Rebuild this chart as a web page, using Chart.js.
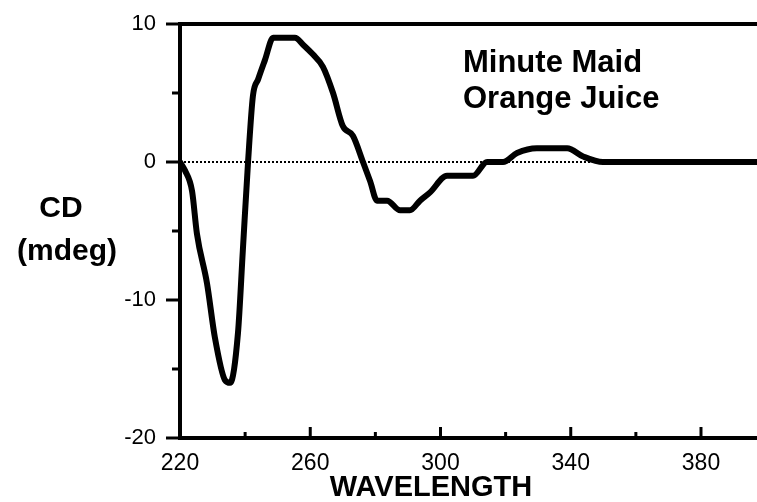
<!DOCTYPE html>
<html>
<head>
<meta charset="utf-8">
<script src="https://cdn.jsdelivr.net/npm/chart.js@4/dist/chart.umd.min.js"></script>
<style>
  html, body { margin: 0; padding: 0; background: #fff; }
  #wrap { width: 757px; height: 502px; }
</style>
</head>
<body>
<div id="wrap"><canvas id="cdChart" width="757" height="502"></canvas></div>
<script>
// CD spectrum, Minute Maid orange juice
const wavelength = [220, 221.5, 223.7, 225.2, 228.3, 230.7, 233.8, 235.4, 237.8, 239.3, 240.9,
    242.4, 244, 246.1, 248.6, 255.3, 257.8, 260.8, 263.9, 267, 270, 273.1, 276.2,
    278.4, 280.5, 283.6, 287.6, 290.6, 293.7, 296.8, 302, 310, 314.3, 319.2,
    323.5, 329.6, 338.9, 343.8, 349.9, 360, 380, 397];
const cdValues = [0, -0.6, -2.1, -5.2, -8.8, -12.7, -15.8, -16.0, -12.4, -6.4, 0,
    4.8, 6.0, 7.4, 9.0, 9.0, 8.5, 7.8, 6.9, 5.0, 2.6, 1.9, 0,
    -1.4, -2.8, -2.8, -3.5, -3.5, -2.8, -2.2, -1.0, -1.0, 0, 0,
    0.65, 1.0, 1.0, 0.4, 0, 0, 0, 0];
const xTickLabels = [220, 260, 300, 340, 380];
const yTickLabels = [-20, -10, 0, 10];
const titleLines = ['Minute Maid', 'Orange Juice'];
const xTitle = 'WAVELENGTH';
const yTitleLines = ['CD', '(mdeg)'];

const FONT = '"Liberation Sans", Arial, Helvetica, sans-serif';

const decorPlugin = {
    id: 'decor',
    beforeDatasetsDraw(chart) {
        const { ctx, chartArea, scales: { y } } = chart;
        const y0 = Math.round(y.getPixelForValue(0));
        ctx.save();
        ctx.strokeStyle = '#000';
        ctx.lineWidth = 2;
        ctx.setLineDash([2, 2]);
        ctx.beginPath();
        ctx.moveTo(chartArea.left, y0);
        ctx.lineTo(chartArea.right, y0);
        ctx.stroke();
        ctx.restore();
    },
    afterDraw(chart) {
        const { ctx, chartArea, scales: { x, y } } = chart;
        ctx.save();
        ctx.strokeStyle = '#000';
        ctx.lineCap = 'butt';

        // top frame line
        ctx.lineWidth = 4;
        const yTop = y.getPixelForValue(10);
        ctx.beginPath();
        ctx.moveTo(chartArea.left - 2, yTop);
        ctx.lineTo(chartArea.right, yTop);
        ctx.stroke();

        // x ticks point up into the plot
        ctx.lineWidth = 3;
        x.ticks.forEach(t => {
            if (t.value % 20 !== 0) return;
            const px = x.getPixelForValue(t.value);
            const len = (t.value - 220) % 40 === 0 ? 11 : 6;
            ctx.beginPath();
            ctx.moveTo(px, chartArea.bottom);
            ctx.lineTo(px, chartArea.bottom - len);
            ctx.stroke();
        });

        // y ticks point out to the left
        y.ticks.forEach(t => {
            const py = y.getPixelForValue(t.value);
            const len = t.value % 10 === 0 ? 14 : 8;
            ctx.beginPath();
            ctx.moveTo(chartArea.left, py);
            ctx.lineTo(chartArea.left - len, py);
            ctx.stroke();
        });

        ctx.fillStyle = '#000';
        ctx.font = 'bold 31px ' + FONT;
        ctx.textAlign = 'left';
        ctx.textBaseline = 'alphabetic';
        ctx.fillText(titleLines[0], 463, 72);
        ctx.fillText(titleLines[1], 463, 108);

        ctx.font = 'bold 29px ' + FONT;
        ctx.textAlign = 'center';
        ctx.textBaseline = 'middle';
        ctx.fillText(xTitle, 431, 488);
        ctx.font = 'bold 30px ' + FONT;
        ctx.fillText(yTitleLines[0], 61, 209);
        ctx.fillText(yTitleLines[1], 67, 252);
        ctx.restore();
    }
};

new Chart(document.getElementById('cdChart'), {
    type: 'line',
    data: {
        datasets: [{
            data: wavelength.map((w, i) => ({ x: w, y: cdValues[i] })),
            borderColor: '#000',
            borderWidth: 6,
            pointRadius: 0,
            fill: false,
            cubicInterpolationMode: 'monotone',
            borderJoinStyle: 'round',
            borderCapStyle: 'round'
        }]
    },
    options: {
        responsive: false,
        animation: false,
        events: [],
        layout: { padding: { top: 24, left: 0, right: 0, bottom: 0 } },
        plugins: { legend: { display: false }, tooltip: { enabled: false } },
        scales: {
            x: {
                type: 'linear',
                min: 220,
                max: 397.2,
                afterFit: scale => {
                    scale.height = 64;
                    scale.paddingLeft = 0;
                    scale.paddingRight = 0;
                },
                grid: { display: false, drawTicks: false },
                border: { display: true, color: '#000', width: 4 },
                ticks: {
                    stepSize: 20,
                    includeBounds: false,
                    autoSkip: false,
                    maxRotation: 0,
                    padding: 12,
                    color: '#000',
                    font: { family: FONT, size: 23 },
                    callback: v => xTickLabels.includes(v) ? String(v) : ''
                }
            },
            y: {
                min: -20,
                max: 10,
                afterFit: scale => {
                    scale.width = 180;
                    scale.paddingTop = 0;
                    scale.paddingBottom = 0;
                },
                grid: { display: false, drawTicks: false },
                border: { display: true, color: '#000', width: 4 },
                ticks: {
                    stepSize: 5,
                    padding: 24,
                    color: '#000',
                    font: { family: FONT, size: 22 },
                    callback: v => yTickLabels.includes(v) ? String(v) : ''
                }
            }
        }
    },
    plugins: [decorPlugin]
});
</script>
</body>
</html>
